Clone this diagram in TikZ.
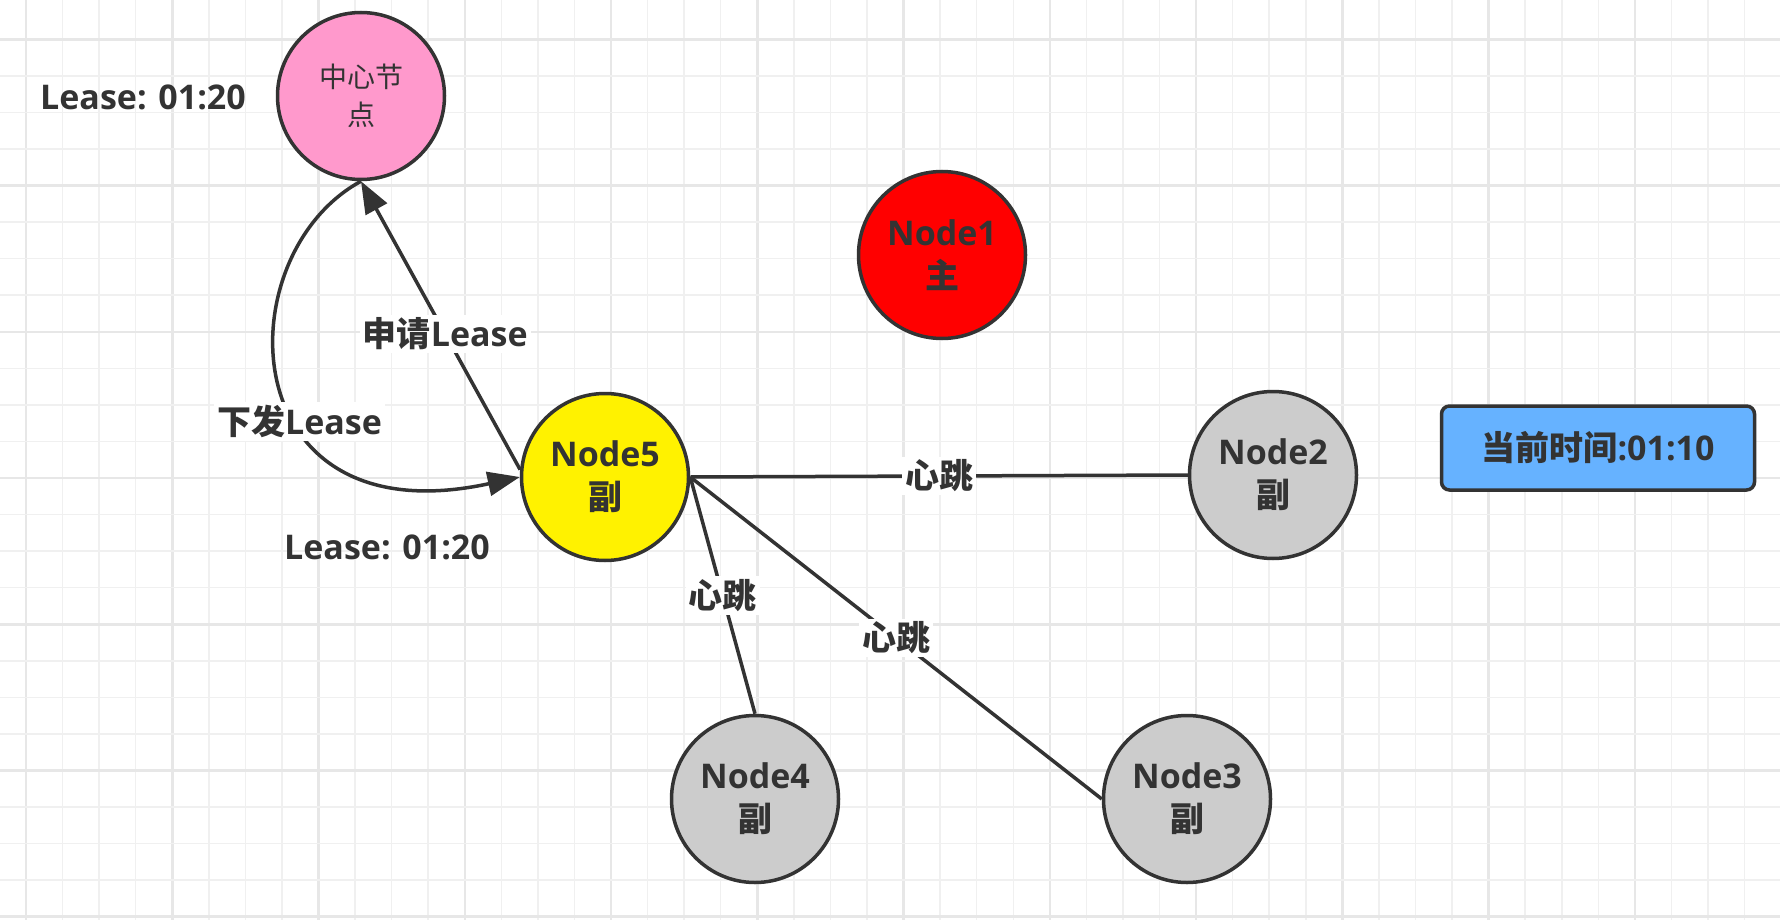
\documentclass[tikz,border=0pt]{standalone}
\usepackage{fontspec}
\setmainfont{Open Sans}
\newfontfamily\cjk{Noto Sans CJK SC}
\usetikzlibrary{arrows.meta}
\definecolor{ink}{HTML}{333333}
\definecolor{gminor}{HTML}{F0F0F0}
\definecolor{gmajor}{HTML}{E7E7E7}
\definecolor{pinkfill}{HTML}{FF99CC}
\definecolor{grayfill}{HTML}{CCCCCC}
\definecolor{bluefill}{HTML}{66B2FF}
\newcommand\bfbig{\fontsize{34}{43}\selectfont\bfseries}
\newcommand\rgsmall{\fontsize{28}{38}\selectfont}
\begin{document}
\begin{tikzpicture}[x=1pt,y=-1pt,
  nodecirc/.style={circle, draw=ink, line width=3.5pt, minimum size=167pt, inner sep=0pt, align=center, text=ink, font=\bfbig},
  conn/.style={draw=ink, line width=3.5pt},
  arr/.style={conn, -{Triangle[length=32pt,width=24pt]}},
  lab/.style={fill=white, text=ink, font=\bfbig, inner sep=3pt},
  plain/.style={text=ink, font=\bfbig, inner sep=0pt},
  minorline/.style={draw=gminor, line width=1.5pt},
  majorline/.style={draw=gmajor, line width=2.5pt}]
\useasboundingbox (0,0) rectangle (1780,920);
\fill[white] (0,0) rectangle (1780,920);
% grid
\foreach \k in {0,...,47} {
  \pgfmathtruncatemacro{\m}{mod(\k,4)}
  \ifnum\m=0 \draw[majorline] ({26+36.565*\k},0) -- ({26+36.565*\k},920);
  \else \draw[minorline] ({26+36.565*\k},0) -- ({26+36.565*\k},920); \fi
}
\foreach \k in {0,...,24} {
  \pgfmathtruncatemacro{\m}{mod(\k,4)}
  \ifnum\m=0 \draw[majorline] (0,{39.3+36.56*\k}) -- (1780,{39.3+36.56*\k});
  \else \draw[minorline] (0,{39.3+36.56*\k}) -- (1780,{39.3+36.56*\k}); \fi
}
% nodes
\node[nodecirc, fill=pinkfill, font=\rgsmall] (center) at (361,96) {{\cjk 中心节}\\{\cjk 点}};
\node[nodecirc, fill=red] (n1) at (942,255) {Node1\\{\cjk 主}};
\node[nodecirc, fill=yellow] (n5) at (605,477) {Node5\\{\cjk 副}};
\node[nodecirc, fill=grayfill] (n2) at (1273,475) {Node2\\{\cjk 副}};
\node[nodecirc, fill=grayfill] (n4) at (755,799) {Node4\\{\cjk 副}};
\node[nodecirc, fill=grayfill] (n3) at (1187,799) {Node3\\{\cjk 副}};
\node[draw=ink, line width=3.5pt, fill=bluefill, rounded corners=8pt, minimum width=313pt, minimum height=84pt, text=ink, font=\bfbig] (now) at (1598,448) {{\cjk 当前时间}:01:10};
\node[plain] (lease1) at (143,97) {Lease: 01:20};
\node[plain] (lease2) at (387,547) {Lease: 01:20};
% connectors
\draw[arr] (n5.175) -- node[lab, pos=0.47] {{\cjk 申请}Lease} (center.south);
\draw[arr] (center.south) .. controls (225,255) and (230,540) .. node[lab, pos=0.6] {{\cjk 下发}Lease} (n5.west);
\draw[conn] (n5.east) -- node[lab] {\cjk 心跳} (n2.west);
\draw[conn] (n5.east) -- node[lab] {\cjk 心跳} (n4.north);
\draw[conn] (n5.east) -- node[lab] {\cjk 心跳} (n3.west);
\end{tikzpicture}
\end{document}
